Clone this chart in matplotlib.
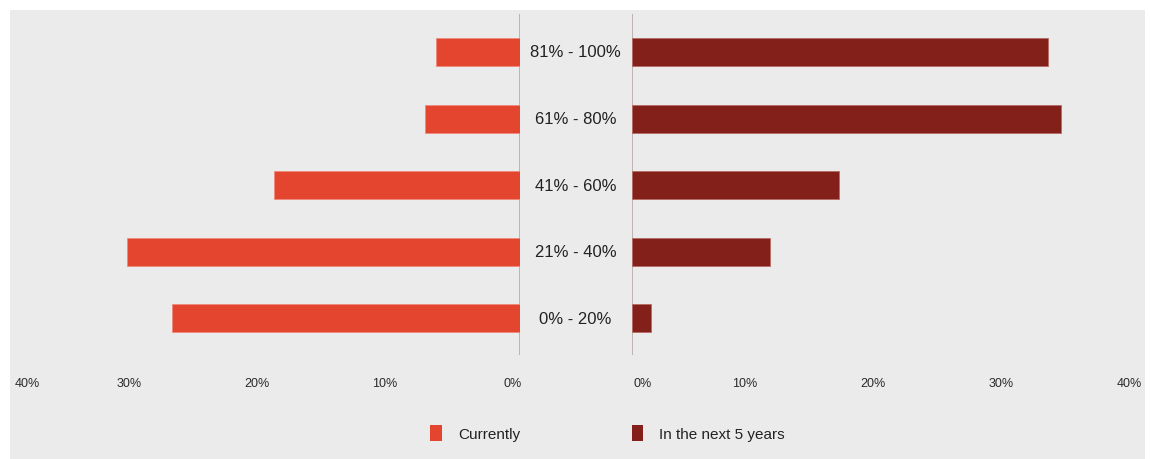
import matplotlib
matplotlib.use("Agg")
import matplotlib.pyplot as plt
import matplotlib.transforms as mtransforms
from matplotlib.patches import Rectangle, Patch

plt.rcParams['font.family'] = ['Liberation Sans', 'DejaVu Sans']

# data (top row first in the picture, so reversed for plotting)
categories = ["0% - 20%", "21% - 40%", "41% - 60%", "61% - 80%", "81% - 100%"]
currently = [27.2, 30.7, 19.2, 7.4, 6.6]
next_5_years = [1.5, 10.8, 16.2, 33.5, 32.5]
tick_values = [0, 10, 20, 30, 40]
tick_labels = ["0%", "10%", "20%", "30%", "40%"]

RED = "#e4452e"
DARK = "#84201a"
BG = "#ebebeb"
LINE = "#b9b0ab"
TXT = "#222222"

W, H = 1150, 460
fig = plt.figure(figsize=(W / 100, H / 100), dpi=100)
fig.patch.set_facecolor("white")
fig.patches.append(Rectangle((10 / W, 0), 1135 / W, 449 / H, transform=fig.transFigure,
                             facecolor=BG, edgecolor="none", zorder=-10))

bottom = 1 - 356 / H
height = 341 / H
axL = fig.add_axes([8 / W, bottom, 512 / W, height])
axR = fig.add_axes([632 / W, bottom, 512 / W, height])

ypos = list(range(len(categories)))
axL.barh(ypos, currently, height=0.42, color=RED, edgecolor="#ef8a7c", linewidth=0.6)
axR.barh(ypos, next_5_years, height=0.42, color=DARK, edgecolor="#b86a64", linewidth=0.6)

axL.set_xlim(40, 0)
axR.set_xlim(0, 40)
for ax in (axL, axR):
    ax.set_ylim(-0.55, 4.57)
    ax.patch.set_alpha(0)
    for s in ax.spines.values():
        s.set_visible(False)
    ax.set_yticks([])
    ax.set_xticks(tick_values)
    ax.set_xticklabels(tick_labels, fontsize=9, color="#2a2a2a")
    ax.tick_params(axis="x", length=0, pad=16)
    ax.axvline(0, color=LINE, lw=1.3, zorder=0)

# nudge tick labels the way the original sits them
def shift(lbl, px):
    lbl.set_transform(lbl.get_transform() + mtransforms.ScaledTranslation(px / 100, 0, fig.dpi_scale_trans))

for v, lbl in zip(tick_values, axL.get_xticklabels()):
    shift(lbl, 19 if v == 40 else -7)
for v, lbl in zip(tick_values, axR.get_xticklabels()):
    shift(lbl, 11 if v == 0 else -15)

# category labels in the gap between the halves
tr = mtransforms.blended_transform_factory(fig.transFigure, axL.transData)
for y, c in zip(ypos, categories):
    axL.text(575.5 / W, y, c, transform=tr, ha="center", va="center",
             fontsize=12, color=TXT)

handles = [Patch(facecolor=RED, edgecolor="none"), Patch(facecolor=DARK, edgecolor="none")]
fig.legend(handles, ["Currently", "In the next 5 years"], loc="center",
           bbox_to_anchor=(607.5 / W, 1 - 434 / H), ncol=2, frameon=False,
           fontsize=11, handlelength=0.78, handleheight=1.24, handletextpad=1.05,
           columnspacing=7.3, labelcolor=TXT)

fig.savefig("out.png", dpi=100)
